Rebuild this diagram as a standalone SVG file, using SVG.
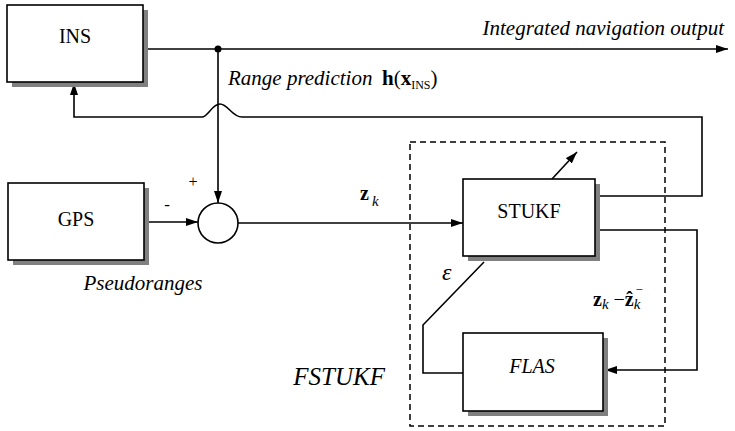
<svg xmlns="http://www.w3.org/2000/svg" width="735" height="431" viewBox="0 0 735 431">
<style>
  .box{fill:#fff;stroke:#000;stroke-width:1.6}
  .shadow{fill:#808080;stroke:none}
  .ln{fill:none;stroke:#000;stroke-width:1.6}
  .dash{fill:none;stroke:#000;stroke-width:1.5;stroke-dasharray:6,4}
  text{font-family:'Liberation Serif','DejaVu Serif',serif;font-size:20px;fill:#000}
  .i{font-style:italic}
  .b{font-weight:bold}
</style>
<defs>
  <marker id="arr" markerUnits="userSpaceOnUse" markerWidth="14" markerHeight="10" refX="12" refY="4" orient="auto">
    <path d="M0,0 L12,4 L0,8 Z" fill="#000"/>
  </marker>
</defs>
<rect width="735" height="431" fill="#fff"/>

<rect x="410" y="142" width="255" height="284" class="dash"/>

<g id="connectors">
  <path class="ln" d="M147,49 H728" marker-end="url(#arr)"/>
  <circle cx="218" cy="49" r="3.5" fill="#000"/>
  <path class="ln" d="M218,49 V203" marker-end="url(#arr)"/>
  <path class="ln" d="M148,222 H198" marker-end="url(#arr)"/>
  <path class="ln" d="M238,223 H463" marker-end="url(#arr)"/>
  <path class="ln" d="M600,196 H702 V117 H242 C232,117 228,104 220,104 C212,104 208,117 202,117 H74 V83" marker-end="url(#arr)"/>
  <path class="ln" d="M552,179 L577,152" marker-end="url(#arr)"/>
  <path class="ln" d="M600,230 H697 V370 H605" marker-end="url(#arr)"/>
  <path class="ln" d="M484,262 L423,325 V373 H463"/>
</g>

<g id="ins">
  <rect x="12" y="10" width="136" height="77" class="shadow"/>
  <rect x="7" y="5" width="136" height="77" class="box"/>
  <text x="75" y="43" font-family="Liberation Serif, serif" text-anchor="middle">INS</text>
</g>
<g id="gps">
  <rect x="13" y="188" width="136" height="77" class="shadow"/>
  <rect x="8" y="183" width="136" height="77" class="box"/>
  <text x="76" y="226" font-family="Liberation Serif, serif" text-anchor="middle">GPS</text>
</g>
<g id="sum">
  <circle cx="218" cy="223" r="20" class="box"/>
</g>
<g id="stukf">
  <rect x="468" y="184" width="132" height="77" class="shadow"/>
  <rect x="463" y="179" width="132" height="77" class="box"/>
  <text x="529" y="218" font-family="Liberation Serif, serif" text-anchor="middle">STUKF</text>
</g>
<g id="flas">
  <rect x="468" y="338" width="140" height="78" class="shadow"/>
  <rect x="463" y="333" width="140" height="78" class="box"/>
  <text x="532" y="373" class="i" font-family="Liberation Serif, serif" text-anchor="middle">FLAS</text>
</g>

<g id="labels" font-family="Liberation Serif, serif">
  <text x="724" y="35" class="i" text-anchor="end" style="font-size:21px">Integrated navigation output</text>
  <text x="228" y="85" style="font-size:21px"><tspan class="i">Range prediction</tspan><tspan x="382" class="b">h</tspan>(<tspan class="b">x</tspan><tspan dy="4" style="font-size:12px">INS</tspan><tspan dy="-4">)</tspan></text>
  <text x="193" y="187" text-anchor="middle" style="font-size:16px">+</text>
  <text x="167" y="210" text-anchor="middle" style="font-size:17px">-</text>
  <text x="143" y="290" class="i" text-anchor="middle" style="font-size:21px">Pseudoranges</text>
  <text x="360" y="200" class="b" style="font-size:20px">z</text>
  <text x="372" y="206" class="i" style="font-size:15px">k</text>
  <text x="442" y="280" class="i" style="font-size:24px">ε</text>
  <text x="593" y="306" style="font-size:20px"><tspan class="b">z</tspan><tspan class="i" dy="3" style="font-size:15px">k</tspan><tspan dy="-3"> −</tspan><tspan class="b">ẑ</tspan><tspan class="i" dy="3" style="font-size:15px">k</tspan><tspan dx="-5" dy="-15" style="font-size:13px">−</tspan></text>
  <text x="385" y="385" class="i" text-anchor="end" style="font-size:25px">FSTUKF</text>
</g>
</svg>
